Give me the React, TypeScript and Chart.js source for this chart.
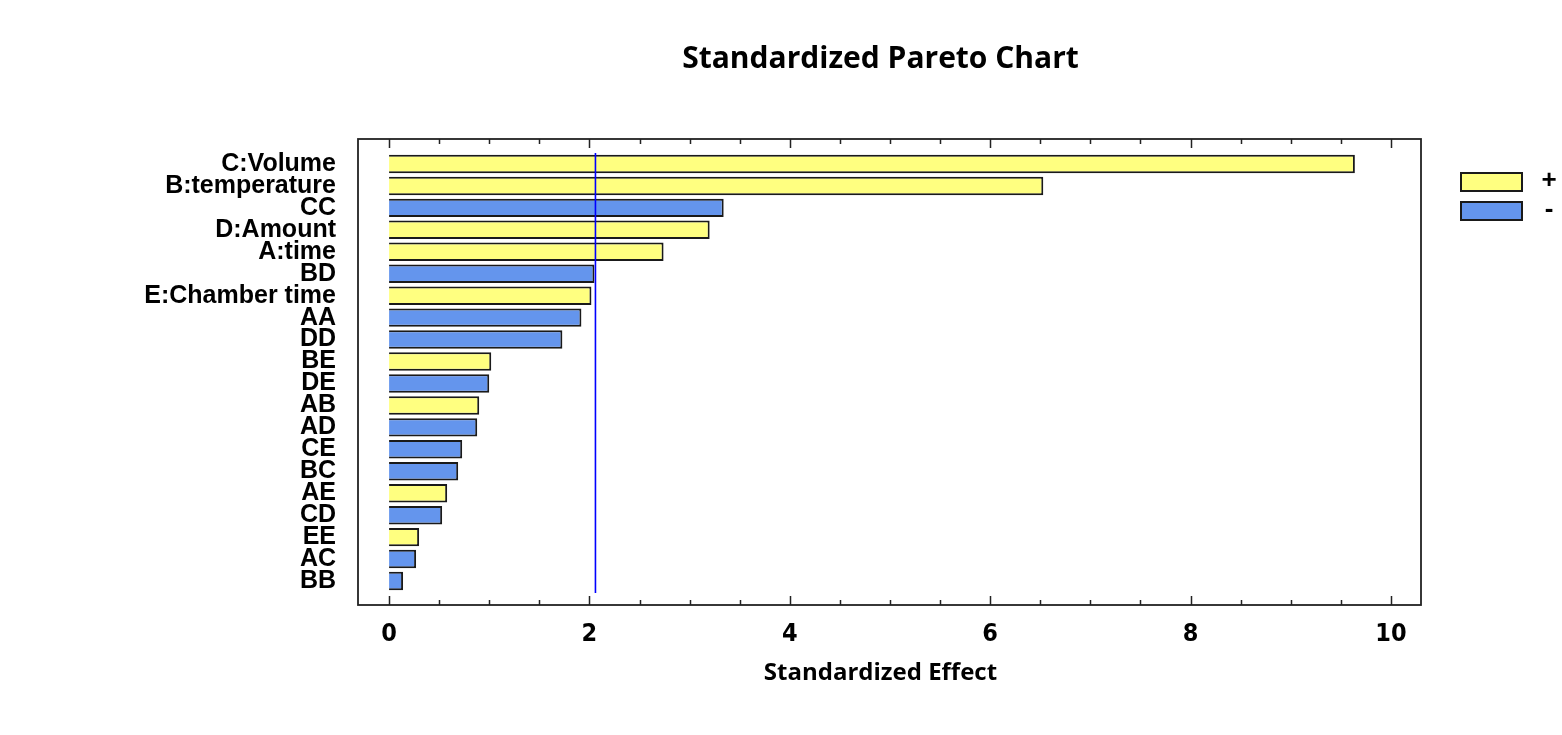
import React, { useEffect, useRef } from "react";
import { Chart, registerables } from "chart.js";

Chart.register(...registerables);

const categories = [
  "C:Volume", "B:temperature", "CC", "D:Amount", "A:time", "BD", "E:Chamber time",
  "AA", "DD", "BE", "DE", "AB", "AD", "CE", "BC", "AE", "CD", "EE", "AC", "BB",
];
const effects = [
  9.64, 6.53, 3.34, 3.2, 2.74, 2.05, 2.02, 1.92, 1.73, 1.02, 1.0, 0.9, 0.88, 0.73,
  0.69, 0.58, 0.53, 0.3, 0.27, 0.14,
];
const signs = [
  "+", "+", "-", "+", "+", "-", "+", "-", "-", "+", "-", "+", "-", "-", "-", "+", "-", "+", "-", "-",
];
const xTickValues = [0, 2, 4, 6, 8, 10];
const minorStep = 0.5;
const referenceLine = 2.06;
const legendLabels = ["+", "-"];
const chartTitle = "Standardized Pareto Chart";
const xAxisTitle = "Standardized Effect";

const YELLOW = "#ffff80";
const BLUE = "#6495ed";

const decorPlugin = {
  id: "decor",
  afterDraw(chart: any) {
    const { ctx, chartArea, scales } = chart;
    const xs = scales.x;
    const frameTop = chartArea.top - 14;
    const frameBottom = chartArea.bottom + 13;
    ctx.save();
    // reference line
    const rx = xs.getPixelForValue(referenceLine);
    ctx.strokeStyle = "#0000ff";
    ctx.lineWidth = 1.6;
    ctx.beginPath();
    ctx.moveTo(rx, chartArea.top);
    ctx.lineTo(rx, chartArea.bottom + 1);
    ctx.stroke();
    // frame
    ctx.strokeStyle = "#222";
    ctx.lineWidth = 1.8;
    ctx.strokeRect(chartArea.left, frameTop, chartArea.right - chartArea.left, frameBottom - frameTop);
    // ticks
    ctx.lineWidth = 1.5;
    for (let v = 0; v <= 10 + 1e-9; v += minorStep) {
      const px = Math.round(xs.getPixelForValue(v)) + 0.5;
      const major = Math.abs(v / 2 - Math.round(v / 2)) < 1e-6;
      const len = major ? 9 : 5;
      ctx.beginPath();
      ctx.moveTo(px, frameBottom);
      ctx.lineTo(px, frameBottom - len);
      ctx.moveTo(px, frameTop);
      ctx.lineTo(px, frameTop + len);
      ctx.stroke();
    }
    // title
    const cx = (chartArea.left + chartArea.right) / 2 - 9;
    ctx.fillStyle = "#000";
    ctx.textAlign = "center";
    ctx.textBaseline = "middle";
    ctx.font = "bold 30px 'Open Sans', sans-serif";
    ctx.fillText(chartTitle, cx, 59);
    ctx.font = "bold 24px 'Open Sans', sans-serif";
    ctx.fillText(xAxisTitle, cx, 673);
    // legend
    const colors = [YELLOW, BLUE];
    const tops = [frameTop + 34, frameTop + 63];
    const bx = chartArea.right + 40;
    ctx.lineWidth = 2;
    ctx.strokeStyle = "#1a1a1a";
    for (let i = 0; i < 2; i++) {
      ctx.fillStyle = colors[i];
      ctx.fillRect(bx, tops[i], 61, 18);
      ctx.strokeRect(bx, tops[i], 61, 18);
      ctx.fillStyle = "#000";
      ctx.font = "bold 26px 'Liberation Sans', Arial, sans-serif";
      ctx.textAlign = "center";
      ctx.fillText(legendLabels[i], bx + 88, tops[i] + 8);
    }
    ctx.restore();
  },
};

export default function App() {
  const ref = useRef<HTMLCanvasElement | null>(null);
  useEffect(() => {
    if (!ref.current) return;
    const posData = effects.map((v, i) => (signs[i] === "+" ? v : null));
    const negData = effects.map((v, i) => (signs[i] === "-" ? v : null));
    const common = {
      borderColor: "#1a1a1a",
      borderWidth: 2,
      grouped: false,
      barPercentage: 0.84,
      categoryPercentage: 1,
    };
    const chart = new Chart(ref.current, {
      type: "bar",
      data: {
        labels: categories,
        datasets: [
          { label: legendLabels[0], data: posData, backgroundColor: YELLOW, ...common } as any,
          { label: legendLabels[1], data: negData, backgroundColor: BLUE, ...common } as any,
        ],
      },
      options: {
        indexAxis: "y",
        animation: false,
        responsive: true,
        maintainAspectRatio: false,
        layout: { padding: { left: 0, right: 141, top: 153, bottom: 0 } },
        plugins: {
          legend: { display: false },
          title: { display: false },
          tooltip: { enabled: false },
        },
        scales: {
          x: {
            type: "linear",
            min: -0.31,
            max: 10.3,
            grid: { display: false, drawTicks: false },
            border: { display: false },
            afterBuildTicks: (scale: any) => {
              scale.ticks = xTickValues.map((v) => ({ value: v }));
            },
            afterFit: (scale: any) => {
              scale.height = 143;
            },
            ticks: {
              padding: 27,
              color: "#000",
              autoSkip: false,
              maxRotation: 0,
              font: {
                family: "'Liberation Sans Narrow', 'DejaVu Sans Condensed', 'Liberation Sans', Arial",
                size: 25,
                weight: "bold",
              },
            },
          },
          y: {
            type: "category",
            grid: { display: false, drawTicks: false },
            border: { display: false },
            afterFit: (scale: any) => {
              scale.width = 358;
            },
            ticks: {
              padding: 22,
              color: "#000",
              autoSkip: false,
              font: { family: "'Liberation Sans', Arial", size: 25, weight: "bold" },
            },
          },
        },
      },
      plugins: [decorPlugin],
    });
    return () => chart.destroy();
  }, []);
  return (
    <div style={{ position: "fixed", left: 0, top: 0, width: 1562, height: 735, background: "#fff" }}>
      <canvas ref={ref} />
    </div>
  );
}
